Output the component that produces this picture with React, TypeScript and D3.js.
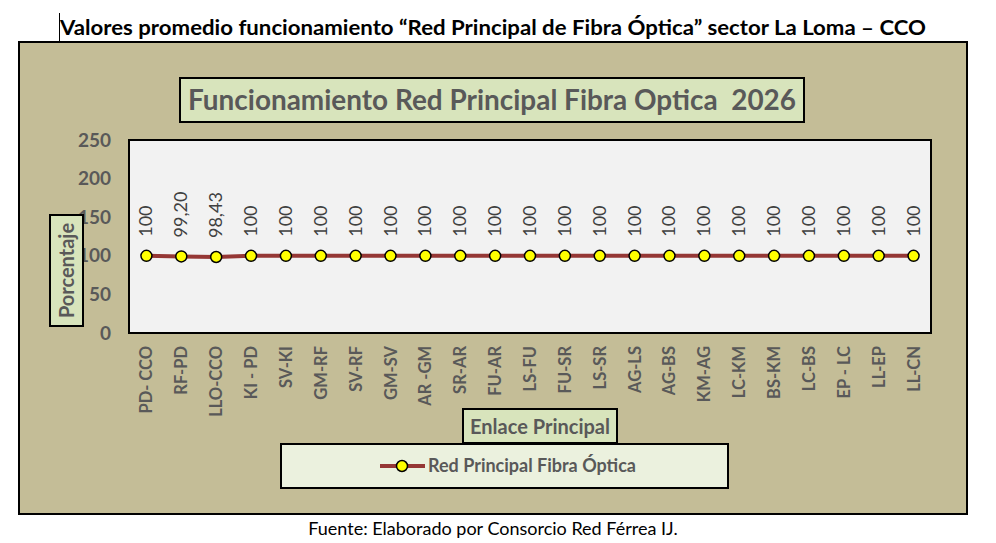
import React from "react";
import * as d3 from "d3";

const categories = ["PD- CCO","RF-PD","LLO-CCO","KI - PD","SV-KI","GM-RF","SV-RF","GM-SV","AR -GM","SR-AR","FU-AR","LS-FU","FU-SR","LS-SR","AG-LS","AG-BS","KM-AG","LC-KM","BS-KM","LC-BS","EP - LC","LL-EP","LL-CN"];
const values = [100,99.2,98.43,100,100,100,100,100,100,100,100,100,100,100,100,100,100,100,100,100,100,100,100];
const labels = ["100","99,20","98,43","100","100","100","100","100","100","100","100","100","100","100","100","100","100","100","100","100","100","100","100"];
const yTicks = [0,50,100,150,200,250];
const seriesName = "Red Principal Fibra Óptica";

const FONT = "Lato, Carlito, 'Open Sans', sans-serif";
const GRAY = "#595959";

export default function App() {
  const W = 996, H = 543;
  const plot = { x0: 129, x1: 931, y0: 140, y1: 333 };
  const x = d3.scaleBand<string>().domain(categories).range([plot.x0, plot.x1]);
  const y = d3.scaleLinear().domain([0, 250]).range([plot.y1, plot.y0]);
  const cx = (c: string) => (x(c) as number) + x.bandwidth() / 2;
  const line = d3.line<number>().x((_, i) => cx(categories[i])).y(d => y(d));

  return (
    <svg width={W} height={H} style={{ position: "absolute", left: 0, top: 0 }}>
      <rect x={0} y={0} width={W} height={H} fill="#fff" />
      <line x1={59.5} x2={59.5} y1={13} y2={42} stroke="#000" strokeWidth={1} />
      <text x={60} y={35} fontFamily={FONT} fontWeight="bold" fontSize={21} fill="#000" textLength={866} lengthAdjust="spacingAndGlyphs">
        Valores promedio funcionamiento “Red Principal de Fibra Óptica” sector La Loma – CCO
      </text>
      <rect x={19} y={42} width={948} height={472} fill="#C4BD97" stroke="#000" strokeWidth={2} />
      {/* chart title */}
      <rect x={180} y={78} width={624} height={44} fill="#D8E4BC" stroke="#000" strokeWidth={2} />
      <text x={188} y={110} fontFamily={FONT} fontWeight="bold" fontSize={28} fill={GRAY} textLength={608} lengthAdjust="spacingAndGlyphs" style={{ whiteSpace: "pre" }}>
        {"Funcionamiento Red Principal Fibra Optica  2026"}
      </text>
      {/* plot area */}
      <rect x={plot.x0} y={plot.y0} width={plot.x1 - plot.x0} height={plot.y1 - plot.y0} fill="#F2F2F2" stroke="#000" strokeWidth={2} />
      {yTicks.map(t => (
        <text key={t} x={111} y={y(t) + 6.5} textAnchor="end" fontFamily={FONT} fontWeight="bold" fontSize={19} fill={GRAY}>{t}</text>
      ))}
      {/* y title */}
      <rect x={50} y={215} width={33} height={111} fill="#D8E4BC" stroke="#000" strokeWidth={2} />
      <text transform={`translate(74,270.5) rotate(-90)`} textAnchor="middle" fontFamily={FONT} fontWeight="bold" fontSize={20} fill={GRAY}>Porcentaje</text>
      {/* x labels */}
      {categories.map(c => (
        <text key={c} transform={`translate(${cx(c) + 6},346) rotate(-90)`} textAnchor="end" fontFamily={FONT} fontWeight="bold" fontSize={16.5} fill={GRAY}>{c}</text>
      ))}
      {/* x title */}
      <rect x={463} y={409} width={154} height={34} fill="#D8E4BC" stroke="#000" strokeWidth={2} />
      <text x={540} y={434} textAnchor="middle" fontFamily={FONT} fontWeight="bold" fontSize={20} fill={GRAY}>Enlace Principal</text>
      {/* series */}
      <path d={line(values) as string} fill="none" stroke="#953735" strokeWidth={4} />
      {values.map((v, i) => (
        <circle key={i} cx={cx(categories[i])} cy={y(v)} r={5.5} fill="#FFFF00" stroke="#000" strokeWidth={1.5} />
      ))}
      {values.map((v, i) => (
        <text key={"l" + i} transform={`translate(${cx(categories[i]) + 6},${y(v) - 19}) rotate(-90)`} textAnchor="start" fontFamily={FONT} fontSize={18} fill="#404040">{labels[i]}</text>
      ))}
      {/* legend */}
      <rect x={281} y={444} width={447} height={44} fill="#EBF1DE" stroke="#000" strokeWidth={2} />
      <line x1={380} x2={425} y1={466} y2={466} stroke="#953735" strokeWidth={4} />
      <circle cx={402} cy={466} r={5.5} fill="#FFFF00" stroke="#000" strokeWidth={1.5} />
      <text x={428} y={472} fontFamily={FONT} fontWeight="bold" fontSize={18} fill={GRAY}>{seriesName}</text>
      <text x={493} y={535} textAnchor="middle" fontFamily={FONT} fontSize={18} fill="#000">Fuente: Elaborado por Consorcio Red Férrea IJ.</text>
    </svg>
  );
}
